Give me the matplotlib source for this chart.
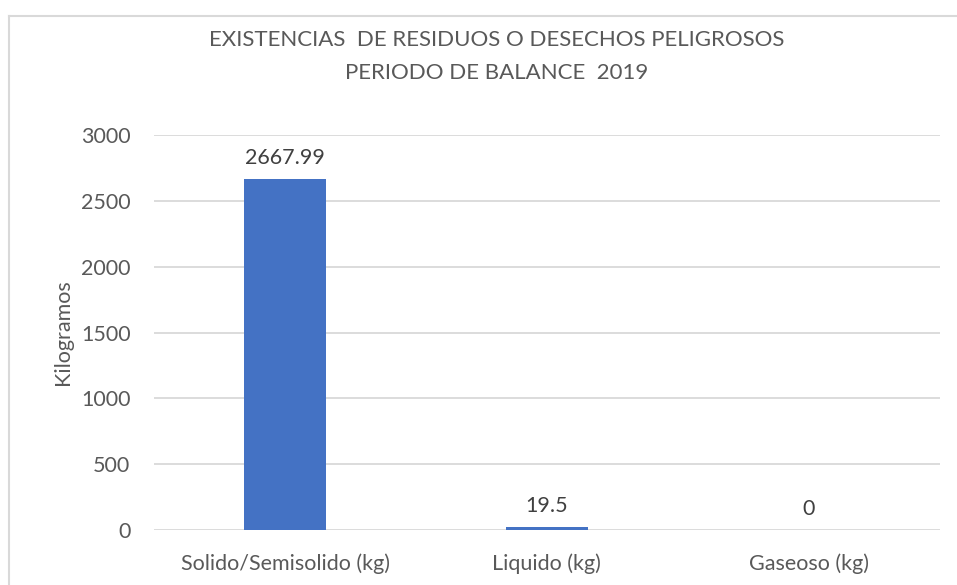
import matplotlib.pyplot as plt
from matplotlib.lines import Line2D

categories = ['Solido/Semisolido (kg)', 'Liquido (kg)', 'Gaseoso (kg)']
values = [2667.99, 19.5, 0]
value_labels = ['2667.99', '19.5', '0']
yticks = [0, 500, 1000, 1500, 2000, 2500, 3000]

plt.rcParams['font.family'] = ['Lato', 'DejaVu Sans']
text_color = '#595959'
fs = 15.5

fig = plt.figure(figsize=(9.57, 5.85), dpi=100)
ax = fig.add_axes([0.161, 0.094, 0.821, 0.675])

x = range(len(categories))
bars = ax.bar(x, values, width=0.31, color='#4472C4', zorder=3)

for rect, lab in zip(bars, value_labels):
    ax.annotate(lab, (rect.get_x() + rect.get_width() / 2, rect.get_height()),
                xytext=(0, 8), textcoords='offset points', ha='center', va='bottom',
                fontsize=fs, color='#404040')

ax.set_xlim(-0.5, 2.5)
ax.set_ylim(0, 3000)
ax.set_yticks(yticks)
ax.set_xticks(list(x))
ax.set_xticklabels(categories)
ax.tick_params(axis='y', length=0, pad=17, labelsize=fs, labelcolor=text_color)
ax.tick_params(axis='x', length=0, pad=17, labelsize=fs, labelcolor=text_color)
ax.grid(axis='y', color='#d9d9d9', linewidth=1.3, zorder=0)
for s in ax.spines.values():
    s.set_visible(False)

ax.set_ylabel('Kilogramos', fontsize=fs, color=text_color, labelpad=6)

fig.text(0.519, 0.931, 'EXISTENCIAS  DE RESIDUOS O DESECHOS PELIGROSOS', ha='center', va='center',
         fontsize=16, color=text_color)
fig.text(0.519, 0.875, 'PERIODO DE BALANCE  2019', ha='center', va='center',
         fontsize=16, color=text_color)

# outer chart border (cut off at the right and bottom)
x0 = 9 / 957
y1 = 1 - 16 / 585
fig.add_artist(Line2D([x0, x0], [0, y1], color='#d9d9d9', linewidth=1.5, transform=fig.transFigure))
fig.add_artist(Line2D([x0, 1], [y1, y1], color='#d9d9d9', linewidth=1.5, transform=fig.transFigure))

fig.savefig('out.png', dpi=100, facecolor='white')
